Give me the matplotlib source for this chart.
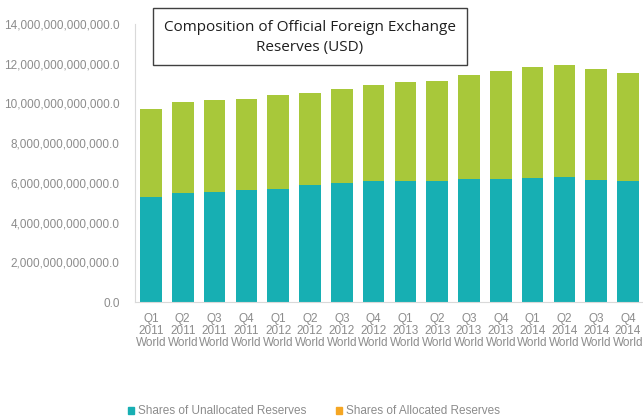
import matplotlib
matplotlib.use("Agg")
import matplotlib.pyplot as plt
from matplotlib.patches import Patch, Rectangle
from matplotlib.ticker import FuncFormatter
import numpy as np

# valores, em trilhoes de USD
quarters = ["Q1", "Q2", "Q3", "Q4"] * 4
years = ["2011"] * 4 + ["2012"] * 4 + ["2013"] * 4 + ["2014"] * 4
unallocated = [5.30, 5.47, 5.55, 5.62, 5.71, 5.88, 6.01, 6.09,
               6.09, 6.09, 6.19, 6.21, 6.23, 6.28, 6.16, 6.09]
total = [9.70, 10.09, 10.16, 10.21, 10.41, 10.51, 10.73, 10.91,
         11.09, 11.13, 11.41, 11.65, 11.83, 11.95, 11.75, 11.55]

TEAL = "#17AFB3"
GREEN = "#A8C83A"
ORANGE = "#F5A623"
GRAY = "#8C8C8C"


def fmt_usd(v, pos):
    return f"{v:,.1f}"


def main():
    plt.rcParams['font.family'] = ['Liberation Sans', 'DejaVu Sans']
    fig = plt.figure(figsize=(6.43, 4.19), dpi=100)
    ax = fig.add_axes([0.21, 0.279, 0.7915, 0.664])

    x = np.arange(len(quarters))
    un = np.array(unallocated) * 1e12
    rest = (np.array(total) - np.array(unallocated)) * 1e12
    ax.bar(x, un, width=0.68, color=TEAL)
    ax.bar(x, rest, width=0.68, bottom=un, color=GREEN)

    ax.set_xlim(-0.5, len(quarters) - 0.5)
    ax.set_ylim(0, 14e12)
    ax.set_yticks(np.arange(0, 14.1e12, 2e12))
    ax.yaxis.set_major_formatter(FuncFormatter(fmt_usd))
    ax.set_xticks(x)
    ax.set_xticklabels([f"{q}\n{y}\nWorld" for q, y in zip(quarters, years)],
                       linespacing=1.0)
    ax.tick_params(axis='both', length=0, labelsize=8.5, labelcolor=GRAY)
    ax.tick_params(axis='y', pad=11)
    ax.tick_params(axis='x', pad=8)

    for s in ['top', 'right']:
        ax.spines[s].set_visible(False)
    for s in ['left', 'bottom']:
        ax.spines[s].set_color("#D9D9D9")
        ax.spines[s].set_linewidth(0.8)

    # caixa do titulo
    fig.patches.append(Rectangle((153 / 643, 1 - 65 / 419), 314 / 643, 57 / 419,
                                 transform=fig.transFigure, fill=False,
                                 edgecolor="#404040", linewidth=1.0))
    fig.text(310 / 643, 1 - 37.5 / 419, "Composition of Official Foreign Exchange\nReserves (USD)",
             ha='center', va='center', fontsize=11, family=['Open Sans', 'DejaVu Sans'],
             color="#1F1F1F", linespacing=1.5)

    handles = [Patch(color=TEAL, label="Shares of Unallocated Reserves"),
               Patch(color=ORANGE, label="Shares of Allocated Reserves")]
    fig.legend(handles=handles, loc='center', bbox_to_anchor=(0.488, 0.018), ncol=2,
               frameon=False, fontsize=8.5, labelcolor=GRAY, handlelength=0.55,
               handleheight=0.55, handletextpad=0.3, columnspacing=2.5)

    fig.savefig("out.png", dpi=100)


if __name__ == "__main__":
    main()
